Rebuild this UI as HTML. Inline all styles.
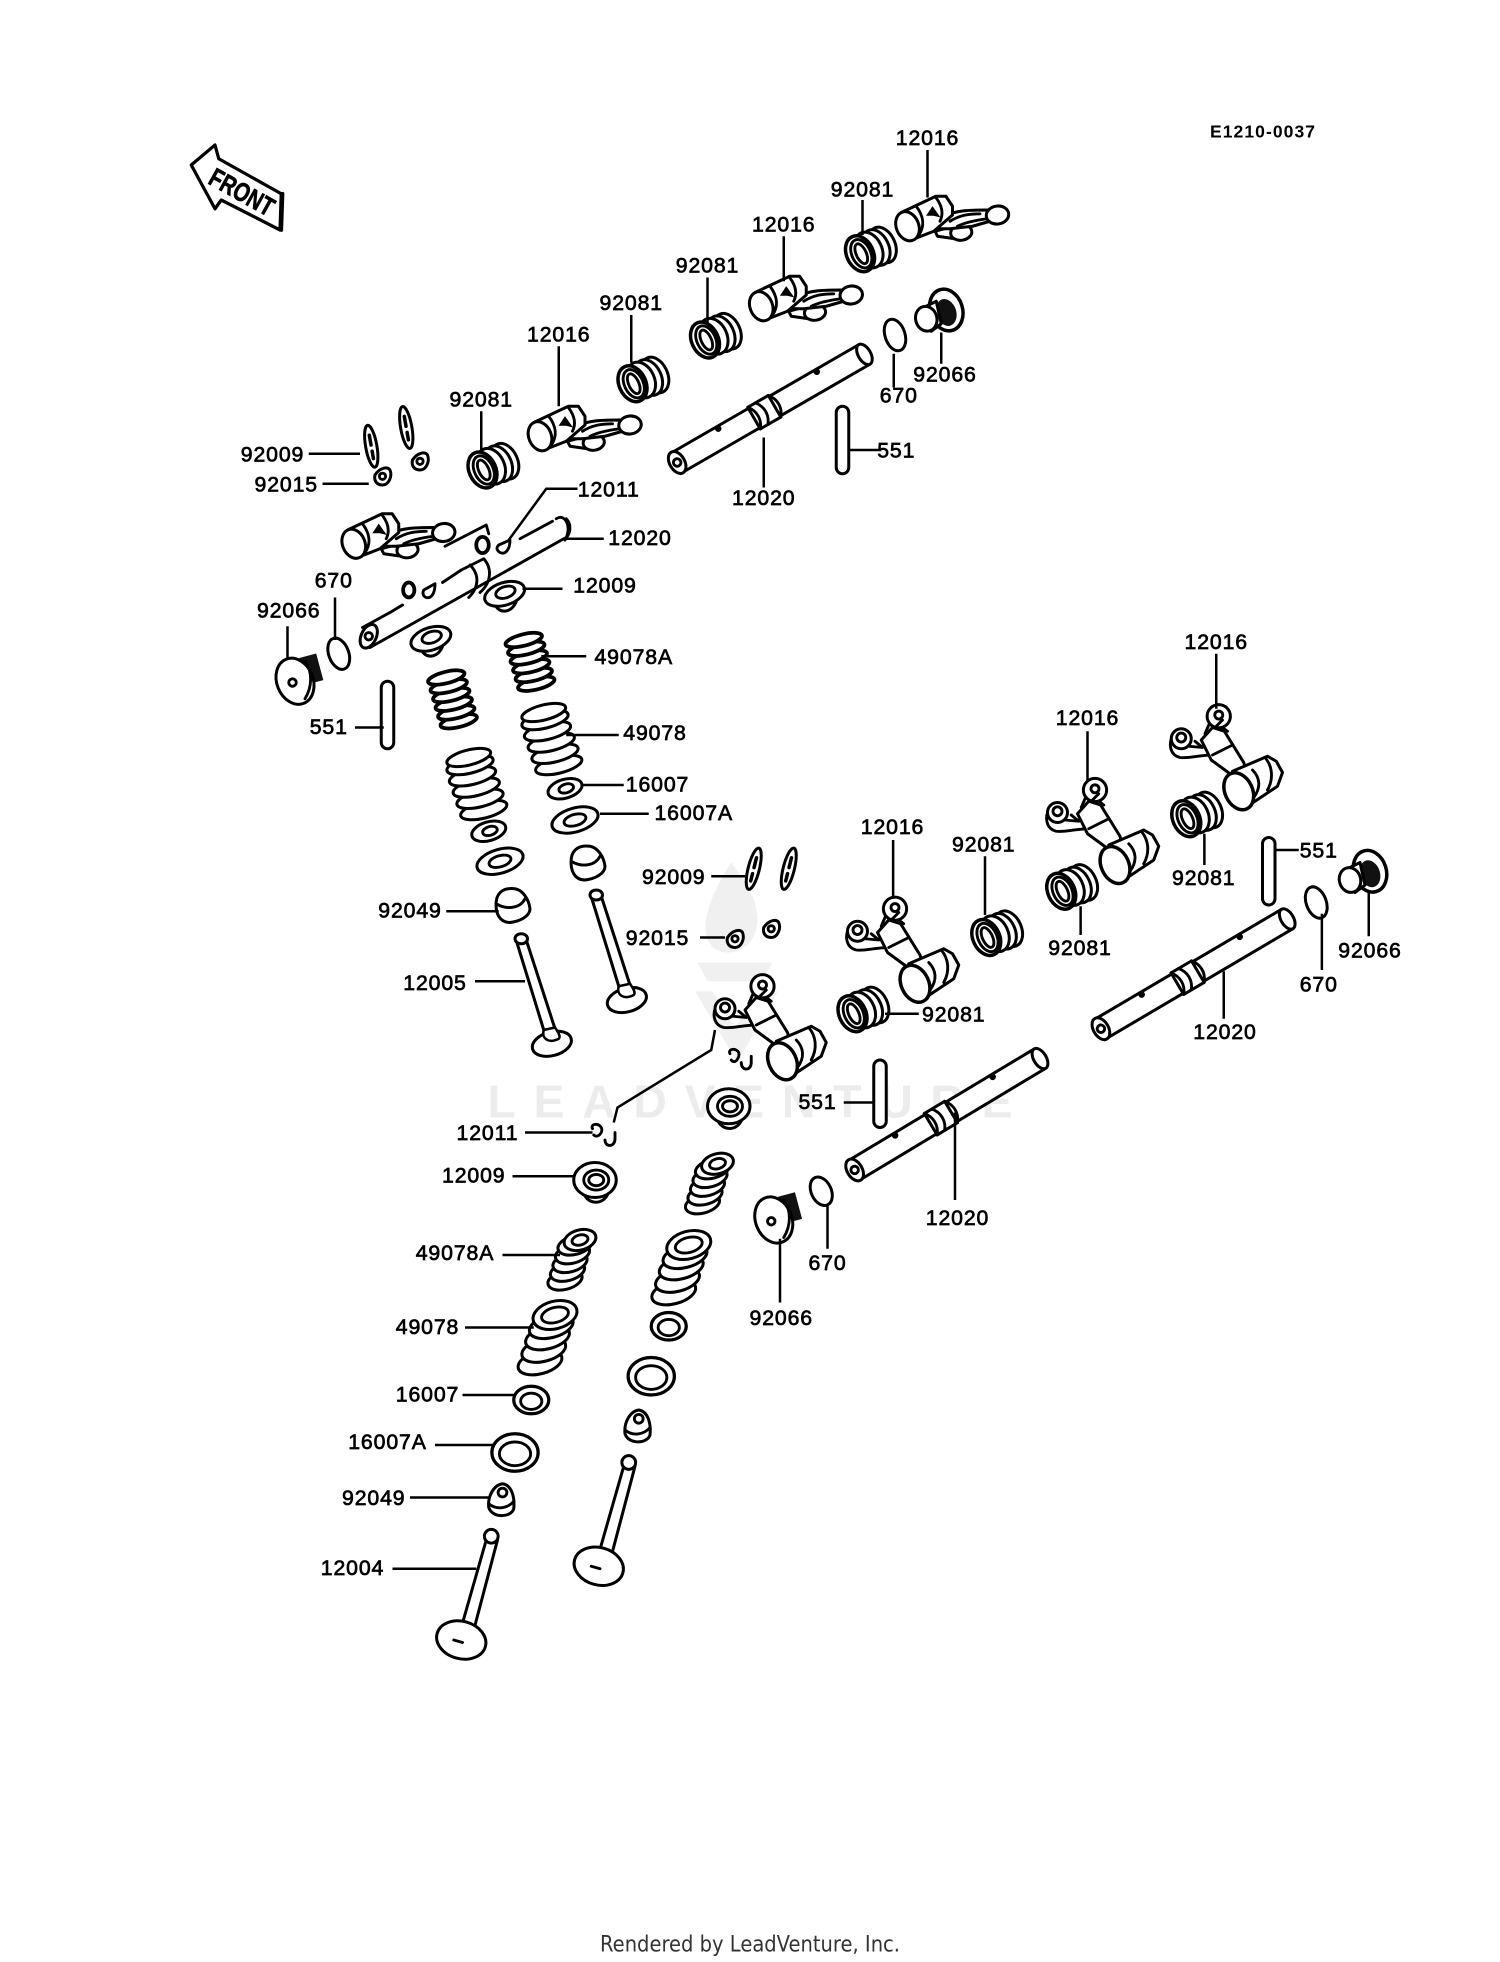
<!DOCTYPE html>
<html><head><meta charset="utf-8">
<style>
html,body{margin:0;padding:0;background:#fff}
svg{display:block}
.p{fill:#fff;stroke:#000;stroke-width:2.4;stroke-linejoin:round;stroke-linecap:round}
.n{fill:none;stroke:#000;stroke-width:2.3;stroke-linejoin:round;stroke-linecap:round}
.l{fill:none;stroke:#000;stroke-width:2}
text{font-family:"Liberation Sans",sans-serif;font-size:17px;letter-spacing:.7px;text-anchor:middle;fill:#000;stroke:#000;stroke-width:.55}
</style></head><body>
<svg width="1500" height="1962" viewBox="0 0 1200 1569.6" xmlns="http://www.w3.org/2000/svg">
<defs>
<g id="rA">
<path class="p" d="M22,4 L40,-1 L38,10 L24,8 z"/>
<ellipse class="p" cx="43" cy="5" rx="8.5" ry="6.2" transform="rotate(-8 43 5)"/>
<path class="p" d="M30,-8 C38,-13 52,-13 64,-13 L66,-4 L52,0 L34,2 L24,2 z"/>
<path class="n" d="M34,-4 C42,-9 50,-10 58,-10 M40,0 C46,-3 56,-5 64,-6"/>
<ellipse class="p" cx="72" cy="-9" rx="9" ry="7.2" transform="rotate(-8 72 -9)"/>
<path class="p" d="M-5,-11 L22.7,-24 L30.7,-24 L36,-16 L36,-9 L21,4 L3,11 z"/>
<path class="n" d="M22.7,-23 C28,-16 29,-10 26,-4 M7,-16 C13,-8 14,0 9,7"/>
<ellipse class="p" cx="0" cy="0" rx="9" ry="12" transform="rotate(-22)"/>
<path d="M16,-9 L20,-15 L25,-8 L21,-9 z" fill="#000" stroke="#000" stroke-width="1.2"/>
</g>
<g id="rB">
<path class="n" d="M-36,14 C-41,22 -39,31 -31,33 C-24,34 -16,31 -5,31"/>
<path class="n" d="M-24,24 L-13,25 L-19,20"/>
<path class="p" d="M-14,19 L-5,9 L4.5,12 L20,37 L22,44 L9,46 L-6,35 z"/>
<path class="n" d="M-5,31 L11,23"/>
<circle class="p" cx="0" cy="0" r="9.3"/>
<circle class="n" cx="0" cy="-1" r="3.2"/>
<path class="n" d="M-8,7 L-11,14 M3,9 L7,12 M-3,9 L3,3"/>
<circle class="p" cx="-30" cy="18" r="8"/>
<circle class="n" cx="-30" cy="17" r="3.6"/>
<path class="p" d="M11,44 L39,32 L46,36 L51,45 L47,56 L23,72 L10,66 z"/>
<path class="n" d="M27,43 C33,49 34,57 28,65 M37,33 C43,40 44,50 39,59"/>
<ellipse class="p" cx="16" cy="60" rx="11" ry="15.5" transform="rotate(-25 16 60)" style="stroke-width:2.8"/>
</g>
<g id="sp">
<ellipse class="p" cx="11" cy="-5" rx="10" ry="15" transform="rotate(-25 11 -5)"/>
<ellipse class="p" cx="6" cy="-3" rx="10" ry="15" transform="rotate(-25 6 -3)"/>
<ellipse class="p" cx="0" cy="-1" rx="10.5" ry="15" transform="rotate(-25 0 -1)"/>
<ellipse class="p" cx="-7" cy="2" rx="10.7" ry="15" transform="rotate(-25 -7 2)" style="stroke-width:2.8"/>
<ellipse class="n" cx="-6" cy="2" rx="7.5" ry="12" transform="rotate(-25 -6 2)"/>
<ellipse class="n" cx="-6" cy="2" rx="4" ry="8.5" transform="rotate(-25 -6 2)"/>
</g>
<g id="sh">
<path class="p" d="M0,-9 L175,-9 L175,9 L0,9 z"/>
<ellipse class="p" cx="175" cy="0" rx="5" ry="9"/>
<ellipse class="p" cx="2" cy="0" rx="6" ry="9.5"/>
<circle class="n" cx="2" cy="0" r="3"/>
<path class="p" d="M73,-10 L92,-10 L92,10 L73,10 z"/>
<path class="n" d="M73,-10 C78,-4 78,4 73,10 M80,-10 C85,-4 85,4 80,10 M92,-10 C97,-4 97,4 92,10"/>
<circle cx="44" cy="-7" r="2.6" fill="#000"/>
<circle cx="135" cy="-7" r="2.6" fill="#000"/>
</g>
<g id="pin"><rect class="p" x="-5" y="0" width="10" height="54" rx="5"/></g>
<g id="cA">
<ellipse class="p" cx="8" cy="17" rx="15" ry="4.6" transform="rotate(-14 8 17)" style="stroke-width:3"/>
<ellipse class="p" cx="6" cy="10" rx="15" ry="4.6" transform="rotate(-14 6 10)" style="stroke-width:3"/>
<ellipse class="p" cx="4" cy="3" rx="15" ry="4.6" transform="rotate(-14 4 3)" style="stroke-width:3"/>
<ellipse class="p" cx="2" cy="-4" rx="15" ry="4.6" transform="rotate(-14 2 -4)" style="stroke-width:3"/>
<ellipse class="p" cx="0" cy="-11" rx="15" ry="4.6" transform="rotate(-14 0 -11)" style="stroke-width:3"/>
<ellipse class="p" cx="-2" cy="-18" rx="15" ry="4.6" transform="rotate(-14 -2 -18)" style="stroke-width:3"/>
</g>
<g id="cB">
<ellipse class="p" cx="9" cy="20" rx="19" ry="6.5" transform="rotate(-14 9 20)"/>
<ellipse class="p" cx="6" cy="11" rx="19" ry="6.5" transform="rotate(-14 6 11)"/>
<ellipse class="p" cx="3" cy="2" rx="19" ry="6.5" transform="rotate(-14 3 2)"/>
<ellipse class="p" cx="0" cy="-7" rx="19" ry="6.5" transform="rotate(-14 0 -7)"/>
<ellipse class="p" cx="-2" cy="-16" rx="19" ry="6.5" transform="rotate(-14 -2 -16)"/>
<ellipse class="p" cx="-3" cy="-22" rx="18" ry="6" transform="rotate(-14 -3 -22)"/>
</g>
<g id="cC">
<ellipse class="p" cx="-7" cy="17" rx="14" ry="7.5" transform="rotate(-15 -7 17)"/>
<ellipse class="p" cx="-5" cy="10" rx="14" ry="7.5" transform="rotate(-15 -5 10)"/>
<ellipse class="p" cx="-3" cy="3" rx="14" ry="7.5" transform="rotate(-15 -3 3)"/>
<ellipse class="p" cx="-1" cy="-4" rx="14" ry="7.5" transform="rotate(-15 -1 -4)"/>
<ellipse class="p" cx="1" cy="-11" rx="14" ry="7.5" transform="rotate(-15 1 -11)"/>
<ellipse class="p" cx="5" cy="-15" rx="13" ry="8" transform="rotate(-15 5 -15)"/>
<ellipse class="n" cx="5" cy="-15" rx="6.5" ry="4" transform="rotate(-15 5 -15)"/>
</g>
<g id="cD">
<ellipse class="p" cx="-8" cy="22" rx="18" ry="9" transform="rotate(-15 -8 22)"/>
<ellipse class="p" cx="-5" cy="12" rx="18" ry="9" transform="rotate(-15 -5 12)"/>
<ellipse class="p" cx="-2" cy="2" rx="18" ry="9" transform="rotate(-15 -2 2)"/>
<ellipse class="p" cx="1" cy="-7" rx="18" ry="9" transform="rotate(-15 1 -7)"/>
<ellipse class="p" cx="4" cy="-16" rx="18" ry="11" transform="rotate(-15 4 -16)"/>
<ellipse class="n" cx="4" cy="-16" rx="11" ry="6" transform="rotate(-15 4 -16)"/>
</g>
<g id="vA">
<path class="p" d="M-3.5,3 L18,73 L27,72 L4,1 z"/>
<ellipse class="p" cx="24.5" cy="84" rx="16" ry="9.5" transform="rotate(-15 24.5 84)"/>
<path class="p" d="M18,73 C16,80 22,84 30,80 C32,78 29,74 27,71 z" style="stroke-width:2"/>
<ellipse class="p" cx="0" cy="0" rx="5" ry="4"/>
</g>
<g id="vB">
<path class="p" d="M-4,2 L-24,72 L-14,74 L5,2 z"/>
<circle class="p" cx="0" cy="-1" r="5.5"/>
<ellipse class="p" cx="-24" cy="82" rx="20" ry="15" transform="rotate(15 -24 82)"/>
<path class="n" d="M-30,82 L-23,84"/>
</g>
<g id="rU">
<path class="p" d="M-9,3 C-8,17 8,16 10,1 z"/>
<ellipse class="p" cx="0" cy="-1" rx="16.5" ry="9" transform="rotate(-18)"/>
<ellipse class="n" cx="1" cy="-2" rx="8" ry="4.5" transform="rotate(-18)"/>
</g>
<g id="rL">
<path class="p" d="M-10,6 C-8,20 8,20 11,8 z"/>
<ellipse class="p" cx="0" cy="-1" rx="17" ry="14"/>
<ellipse class="n" cx="1" cy="-1" rx="10" ry="8"/>
<ellipse class="n" cx="1" cy="-1" rx="6" ry="4.5"/>
</g>
<g id="wU">
<ellipse class="p" cx="0" cy="0" rx="14" ry="7.5" transform="rotate(-16)"/>
<ellipse class="n" cx="1" cy="0" rx="6" ry="3.5" transform="rotate(-16)"/>
</g>
<g id="wUA">
<ellipse class="p" cx="0" cy="0" rx="19" ry="9.5" transform="rotate(-16)"/>
<ellipse class="n" cx="0" cy="0" rx="9" ry="4.5" transform="rotate(-16)"/>
</g>
<g id="wL">
<ellipse class="p" cx="0" cy="0" rx="14" ry="11"  style="stroke-width:2.6"/>
<ellipse class="n" cx="0" cy="1" rx="8.5" ry="6.5"/>
</g>
<g id="wLA">
<ellipse class="p" cx="0" cy="0" rx="18.5" ry="15" style="stroke-width:2.6"/>
<ellipse class="n" cx="0" cy="1" rx="12.5" ry="9.5"/>
</g>
<g id="capU">
<path class="p" d="M-13,-4 C-12,-12 -6,-15 2,-14 C8,-13 13,-6 14,2 C14,8 6,12 -2,13 C-10,13 -14,6 -13,-4 z"/>
<path class="n" d="M-13,-2 C-5,3 6,2 10,-6"/>
</g>
<g id="capL">
<path class="p" d="M-10,5 C-11,-4 -6,-13 1,-14 C8,-13 11,-4 10,6 C8,13 -7,14 -10,5 z"/>
<path class="n" d="M-10,2 C-4,7 5,6 10,0"/>
<circle class="n" cx="1" cy="-7" r="3.5"/>
</g>
<g id="plugB">
<g transform="translate(14,-10) rotate(-15)">
<rect x="-8" y="-11" width="14" height="22" fill="#111"/>
</g>
<ellipse class="p" cx="0" cy="0" rx="14.5" ry="19" transform="rotate(-22)"/>
<circle class="n" cx="-2" cy="1" r="3"/>
<path class="n" d="M8,-16 C14,-8 14,4 8,14"/>
</g>
<g id="plugA">
<ellipse class="p" cx="6" cy="-2" rx="13" ry="17" transform="rotate(-18 6 -2)" style="stroke-width:2.8"/>
<ellipse cx="6" cy="0" rx="8" ry="11" transform="rotate(-18 6 0)" fill="#111"/>
<path class="p" d="M-10,-5 L-2,-9 L2,9 L-6,15 z"/>
<ellipse class="p" cx="-10" cy="5" rx="8.5" ry="10" transform="rotate(-15 -10 5)"/>
</g>
<g id="kp"><path class="p" d="M-6,-1 C-2,-7 4,-8 6,-5 C8,0 5,7 0,7 C-5,7 -7,3 -6,-1 z"/><circle class="n" cx="0" cy="0" r="2.5"/></g>
<g id="kb"><ellipse class="p" cx="0" cy="0" rx="4.5" ry="17"/><path class="n" d="M0,-9 L0,-1 M0,4 L0,10" style="stroke-width:2.8"/></g>
</defs>

<!-- watermark -->
<g fill="#f0f0f0">
<path d="M585,690 C600,710 605,720 606,735 C606,752 595,762 582,762 C570,762 562,752 565,735 C567,722 575,705 585,690 z"/>
<path d="M558,770 L618,770 L610,785 L566,785 z M570,793 L588,822 L606,793 L622,793 L590,850 L556,793 z"/>
</g>
<text x="600" y="894" textLength="420" style="font-size:37px;letter-spacing:0;fill:#ececec;stroke:none;font-weight:700">LEADVENTURE</text>

<!-- FRONT -->
<path class="p" d="M153,132 L172,116 L175,127 L225,155 L224,184 L177,160 L172,167 z" style="stroke-width:2.6"/>
<path class="n" d="M226,155 L225,184" style="stroke-width:3"/>
<text transform="translate(190,160) rotate(29)" textLength="56" lengthAdjust="spacingAndGlyphs" style="font-size:21px;font-weight:700;letter-spacing:0">FRONT</text>

<!-- upper rockers -->
<use href="#rA" x="726" y="181"/>
<use href="#rA" x="609" y="245"/>
<use href="#rA" x="432" y="349"/>
<use href="#rA" x="283" y="435"/>
<!-- upper springs -->
<use href="#sp" x="695" y="201"/>
<use href="#sp" x="571" y="270"/>
<use href="#sp" x="513" y="305"/>
<use href="#sp" x="393" y="374"/>
<!-- keepers etc -->
<use href="#kb" transform="translate(297,357) rotate(-10)"/>
<use href="#kb" transform="translate(325,342) rotate(-10)"/>
<use href="#kp" x="306" y="381"/>
<use href="#kp" x="336" y="369"/>
<!-- upper shaft -->
<use href="#sh" transform="translate(540,371) rotate(-30)"/>
<ellipse class="p" cx="716" cy="268" rx="8" ry="13" transform="rotate(-18 716 268)"/>
<use href="#plugA" x="751" y="250"/>
<use href="#pin" x="674" y="325"/>
<!-- left shaft -->
<path class="n" d="M296,518 L451,431 M453,415 C458,420 456,430 451,431 M416,431 L442,417 M354,466 L369,456 M290,502 L312,490 L322,484"/>
<path class="n" d="M445,415 C452,410 458,422 452,432"/>
<ellipse class="p" cx="295" cy="509" rx="6" ry="10" transform="rotate(25 295 509)"/>
<circle class="n" cx="295" cy="509" r="3"/>
<path class="n" d="M369,456 L387,447 C394,455 393,466 384,474 M376,452 C384,460 383,470 375,478"/>
<path class="n" d="M356,437 L389,420 L391,427"/>
<ellipse class="n" cx="386" cy="436" rx="5" ry="6.5" style="stroke-width:3"/>
<path class="n" d="M399,436 L408,432 C408,440 404,444 400,442 C397,440 397,438 399,436 z"/>
<ellipse class="n" cx="327" cy="472" rx="4.5" ry="6" style="stroke-width:3"/>
<path class="n" d="M339,472 L348,467 C348,475 345,479 341,478 C338,477 338,474 339,472 z"/>
<!-- upper-left plug -->
<ellipse class="p" cx="271" cy="523" rx="8" ry="13" transform="rotate(-20 271 523)"/>
<use href="#plugB" x="236" y="545"/>
<use href="#pin" x="310" y="545"/>
<!-- upper valve train -->
<use href="#rU" x="404" y="476"/>
<use href="#rU" x="345" y="512"/>
<use href="#cA" x="421" y="530"/>
<use href="#cA" x="359" y="560"/>
<use href="#cB" x="438" y="592"/>
<use href="#cB" x="378" y="628"/>
<use href="#wU" x="452" y="631"/>
<use href="#wU" x="391" y="665"/>
<use href="#wUA" x="460" y="656"/>
<use href="#wUA" x="400" y="689"/>
<use href="#capU" x="470" y="691"/>
<use href="#capU" x="410" y="725"/>
<use href="#vA" x="477" y="716"/>
<use href="#vA" x="417" y="751"/>
<!-- lower right rockers -->
<use href="#sp" x="956" y="653"/>
<use href="#sp" x="856" y="711"/>
<use href="#sp" x="796" y="748"/>
<use href="#sp" x="689" y="809"/>
<use href="#rB" x="975" y="573"/>
<use href="#rB" x="876" y="632"/>
<use href="#rB" x="716" y="727"/>
<use href="#rB" x="610" y="789"/>
<use href="#kb" transform="translate(603,695) rotate(14)"/>
<use href="#kb" transform="translate(631,695) rotate(14)"/>
<use href="#kp" x="588" y="751"/>
<use href="#kp" x="617" y="743"/>
<!-- right shaft + parts -->
<use href="#sh" transform="translate(879,824) rotate(-30.5)"/>
<use href="#sh" transform="translate(682,937) rotate(-31)"/>
<use href="#pin" x="1015" y="670"/>
<use href="#pin" x="704" y="848"/>
<ellipse class="p" cx="1053" cy="722" rx="8" ry="13" transform="rotate(-20 1053 722)"/>
<use href="#plugA" x="1090" y="699"/>
<ellipse class="p" cx="657" cy="953" rx="8" ry="12" transform="rotate(-25 657 953)"/>
<use href="#plugB" x="619" y="976"/>
<!-- clips -->
<path class="n" d="M474,903 C472,899 479,898 481,902 C483,906 478,911 475,908 M484,912 C484,918 492,918 492,911 L492,906"/>
<path class="n" d="M584,843 C582,839 589,838 591,842 C592,846 588,852 585,848 M593,850 C593,857 601,857 601,850 L601,845"/>
<!-- lower valve train -->
<use href="#rL" x="476" y="945"/>
<use href="#rL" x="583" y="886"/>
<use href="#cC" x="459" y="1007"/>
<use href="#cC" x="569" y="946"/>
<use href="#cD" x="440" y="1068"/>
<use href="#cD" x="547" y="1012"/>
<use href="#wL" x="425" y="1120"/>
<use href="#wL" x="535" y="1061"/>
<use href="#wLA" x="412" y="1162"/>
<use href="#wLA" x="521" y="1101"/>
<use href="#capL" x="401" y="1201"/>
<use href="#capL" x="510" y="1142"/>
<use href="#vB" x="393" y="1230"/>
<use href="#vB" x="503" y="1171"/>

<!-- leaders -->
<g class="l">
<path d="M742,120V158M690,160V188M627,189V225M566,222V258M505,252V290M447,277V325M385,329V362M247,363H288M258,387H295"/>
<path d="M753,266V291M715,283V310M678,360H705M611,350V390"/>
<path d="M462,391H437L407,432M453,431H483M418,471H450M268,478V512M230,501V528"/>
<path d="M433,525H469M453,588H495M465,628H499M480,651H519M284,582H307M569,701H596M560,750H580M357,729H399M380,785H420"/>
<path d="M714.5,672V719M788,685V732M870,585V625M973,523V567M963.5,667V692M1019,680H1039M864.5,725V748M1095,712V749M1057.5,731V776M979,777V815M708,811H735"/>
<path d="M572,824L569,840L494,886L491,898M420,906H474M410,941H460M402,1004H448M372,1062H427M370,1116H411M348,1156H395M328,1198H391M314,1255H381"/>
<path d="M675,882H699M764,890V960M662,964V999M624,991V1042"/>
</g>

<!-- labels -->
<text x="1010" y="110" textLength="84" style="font-size:14px;font-weight:700;letter-spacing:0;stroke:none">E1210-0037</text>
<text x="742" y="116">12016</text>
<text x="690" y="157">92081</text>
<text x="627" y="185">12016</text>
<text x="566" y="218">92081</text>
<text x="505" y="248">92081</text>
<text x="447" y="273">12016</text>
<text x="385" y="325">92081</text>
<text x="218" y="369">92009</text>
<text x="229" y="393">92015</text>
<text x="756" y="305">92066</text>
<text x="719" y="322">670</text>
<text x="717" y="366">551</text>
<text x="611" y="404">12020</text>
<text x="487" y="397">12011</text>
<text x="512" y="436">12020</text>
<text x="484" y="474">12009</text>
<text x="267" y="470">670</text>
<text x="231" y="494">92066</text>
<text x="507" y="531">49078A</text>
<text x="524" y="592">49078</text>
<text x="526" y="633">16007</text>
<text x="555" y="656">16007A</text>
<text x="263" y="587">551</text>
<text x="539" y="707">92009</text>
<text x="526" y="756">92015</text>
<text x="328" y="734">92049</text>
<text x="348" y="792">12005</text>
<text x="714" y="667">12016</text>
<text x="787" y="681">92081</text>
<text x="870" y="580">12016</text>
<text x="973" y="519">12016</text>
<text x="963" y="708">92081</text>
<text x="1055" y="686">551</text>
<text x="864" y="764">92081</text>
<text x="1096" y="766">92066</text>
<text x="1055" y="793">670</text>
<text x="980" y="831">12020</text>
<text x="763" y="817">92081</text>
<text x="654" y="887">551</text>
<text x="766" y="980">12020</text>
<text x="662" y="1016">670</text>
<text x="625" y="1060">92066</text>
<text x="390" y="912">12011</text>
<text x="379" y="946">12009</text>
<text x="364" y="1008">49078A</text>
<text x="342" y="1067">49078</text>
<text x="342" y="1121">16007</text>
<text x="310" y="1159">16007A</text>
<text x="299" y="1204">92049</text>
<text x="282" y="1260">12004</text>

<text x="600" y="1561" textLength="240" lengthAdjust="spacingAndGlyphs" style="font-family:'DejaVu Sans',sans-serif;font-size:18px;letter-spacing:0;stroke:none;fill:#333">Rendered by LeadVenture, Inc.</text>
</svg>
</body></html>
